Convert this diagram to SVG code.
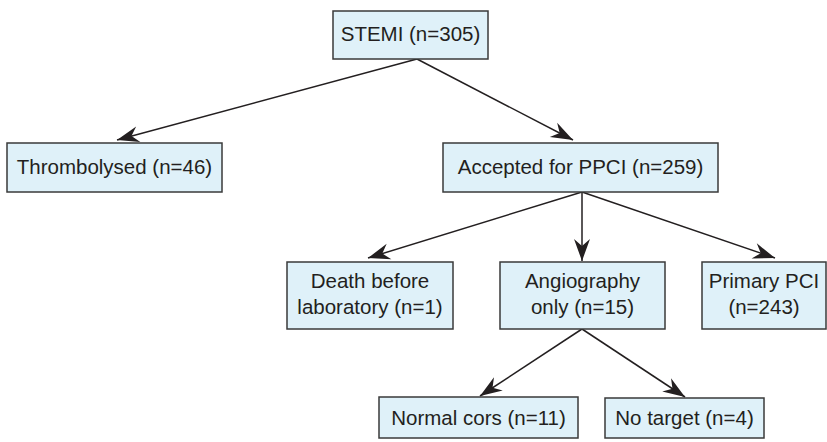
<svg xmlns="http://www.w3.org/2000/svg" width="827" height="442" viewBox="0 0 827 442">
<style>
.box{fill:#dff1f9;stroke:#3a3a3a;stroke-width:1.5}
text{font-family:"Liberation Sans",Arial,sans-serif;font-size:20.5px;fill:#231f20;text-anchor:middle}
.c{stroke:#231f20;stroke-width:1.5;fill:none;marker-end:url(#ah)}
</style>
<defs>
<marker id="ah" markerUnits="userSpaceOnUse" markerWidth="26" markerHeight="18" viewBox="-22 -9 24 18" refX="0" refY="0" orient="auto">
<path d="M0,0 L-22,-8 L-15,0 L-22,8 Z" fill="#231f20"/>
</marker>
</defs>
<rect width="827" height="442" fill="#ffffff"/>
<g id="connectors">
<line class="c" x1="417" y1="59" x2="117" y2="140"/>
<line class="c" x1="417" y1="59" x2="573" y2="140"/>
<line class="c" x1="582" y1="192" x2="368" y2="258"/>
<line class="c" x1="582" y1="192" x2="582" y2="261"/>
<line class="c" x1="582" y1="192" x2="775" y2="258"/>
<line class="c" x1="582" y1="329" x2="480" y2="396"/>
<line class="c" x1="582" y1="329" x2="685" y2="397"/>
</g>
<g id="stemi">
<rect class="box" x="333" y="11" width="155" height="48"/>
<text x="410.5" y="41">STEMI (n=305)</text>
</g>
<g id="thrombolysed">
<rect class="box" x="7" y="143" width="215" height="49"/>
<text x="114.5" y="174">Thrombolysed (n=46)</text>
</g>
<g id="accepted">
<rect class="box" x="443" y="143" width="275" height="49"/>
<text x="580.5" y="174">Accepted for PPCI (n=259)</text>
</g>
<g id="death">
<rect class="box" x="287" y="262" width="166" height="67"/>
<text x="370" y="288">Death before</text>
<text x="370" y="314">laboratory (n=1)</text>
</g>
<g id="angiography">
<rect class="box" x="500" y="262" width="165" height="67"/>
<text x="582.5" y="288">Angiography</text>
<text x="582.5" y="314">only (n=15)</text>
</g>
<g id="primary">
<rect class="box" x="702" y="262" width="124" height="67"/>
<text x="764" y="288">Primary PCI</text>
<text x="764" y="314">(n=243)</text>
</g>
<g id="normal">
<rect class="box" x="379" y="397" width="199" height="41"/>
<text x="478.5" y="425">Normal cors (n=11)</text>
</g>
<g id="notarget">
<rect class="box" x="605" y="398" width="159" height="40"/>
<text x="684.5" y="425">No target (n=4)</text>
</g>
</svg>
